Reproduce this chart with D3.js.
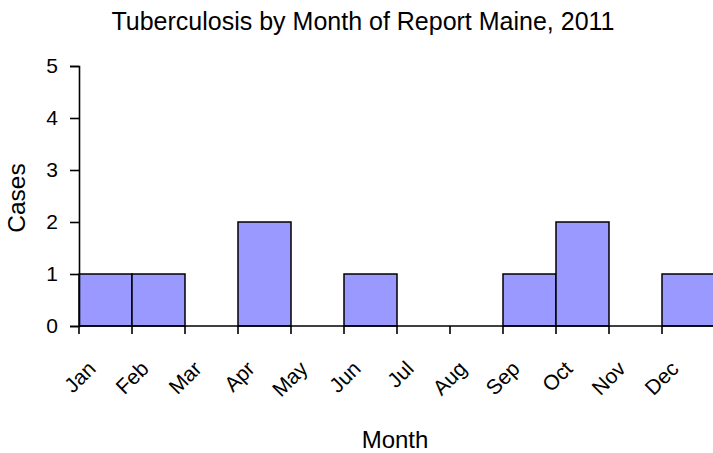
<!DOCTYPE html>
<html>
<head>
<meta charset="utf-8">
<script src="https://cdn.jsdelivr.net/npm/d3@7"></script>
<style>
  html, body { margin: 0; padding: 0; background: #fff; }
  svg { display: block; font-family: Arial, "Liberation Sans", sans-serif; }
</style>
</head>
<body>
<svg id="chart" width="713" height="453"></svg>
<script>
// Monthly tuberculosis case counts, Maine 2011
const months = ["Jan", "Feb", "Mar", "Apr", "May", "Jun", "Jul", "Aug", "Sep", "Oct", "Nov", "Dec"];
const cases = [1, 1, 0, 2, 0, 1, 0, 0, 1, 2, 0, 1];
const yTicks = [0, 1, 2, 3, 4, 5];

const chartTitle = "Tuberculosis by Month of Report Maine, 2011";
const xTitle = "Month";
const yTitle = "Cases";

const svg = d3.select("#chart");

const plot = { left: 79, right: 715, top: 66, bottom: 326 };

const x = d3.scaleBand()
  .domain(months)
  .range([plot.left, plot.right])
  .padding(0);

const y = d3.scaleLinear()
  .domain([0, 5])
  .range([plot.bottom, plot.top]);

// bars
svg.append("g")
  .selectAll("rect")
  .data(months.map((m, i) => ({ month: m, value: cases[i] })).filter(d => d.value > 0))
  .join("rect")
  .attr("x", d => x(d.month))
  .attr("y", d => y(d.value))
  .attr("width", x.bandwidth())
  .attr("height", d => y(0) - y(d.value))
  .attr("fill", "#9999ff")
  .attr("stroke", "#000")
  .attr("stroke-width", 1.5);

// y axis
const yAxis = svg.append("g")
  .attr("transform", `translate(${plot.left},0)`)
  .call(d3.axisLeft(y).tickValues(yTicks).tickFormat(d3.format("d")).tickSize(9).tickPadding(12));
yAxis.attr("font-size", null).attr("font-family", null);
yAxis.select(".domain").attr("stroke", "#000").attr("stroke-width", 1.6);
yAxis.selectAll(".tick line").attr("stroke", "#000").attr("stroke-width", 1.6);
yAxis.selectAll(".tick text")
  .style("font-size", "21px")
  .attr("fill", "#000");

// x axis: ticks sit on the category boundaries, labels hang off each boundary
const xAxis = svg.append("g").attr("transform", `translate(0,${plot.bottom})`);
xAxis.append("line")
  .attr("x1", plot.left).attr("x2", plot.right)
  .attr("stroke", "#000").attr("stroke-width", 1.6);
xAxis.selectAll("line.tick")
  .data(months)
  .join("line")
  .attr("class", "tick")
  .attr("x1", d => x(d)).attr("x2", d => x(d))
  .attr("y1", 0).attr("y2", 8)
  .attr("stroke", "#000").attr("stroke-width", 1.6);
xAxis.selectAll("text")
  .data(months)
  .join("text")
  .attr("transform", d => `translate(${x(d) + 18},44) rotate(-45)`)
  .attr("text-anchor", "end")
  .style("font-size", "21px")
  .attr("fill", "#000")
  .text(d => d);

// titles
svg.append("text")
  .attr("x", 363).attr("y", 30)
  .attr("text-anchor", "middle")
  .style("font-size", "25px")
  .attr("fill", "#000")
  .text(chartTitle);

svg.append("text")
  .attr("x", 395).attr("y", 448)
  .attr("text-anchor", "middle")
  .style("font-size", "24px")
  .attr("fill", "#000")
  .text(xTitle);

svg.append("text")
  .attr("transform", `translate(25,${(plot.top + plot.bottom) / 2 + 2}) rotate(-90)`)
  .attr("text-anchor", "middle")
  .style("font-size", "24.5px")
  .attr("fill", "#000")
  .text(yTitle);
</script>
</body>
</html>
